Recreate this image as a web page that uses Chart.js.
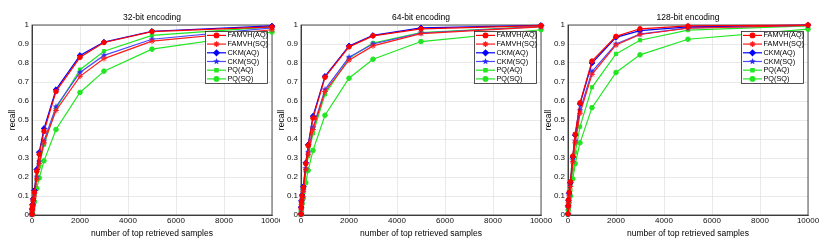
<!DOCTYPE html>
<html>
<head>
<meta charset="utf-8">
<script src="https://cdn.jsdelivr.net/npm/chart.js@4/dist/chart.umd.min.js"></script>
<style>
  body { margin: 0; background: #fff; }
  #wrap { position: relative; width: 833px; height: 248px; overflow: hidden; }
  canvas { position: absolute; top: 0; }
</style>
</head>
<body>
<div id="wrap">
  <canvas id="c32" width="280" height="248" style="left:0px"></canvas>
  <canvas id="c64" width="291" height="248" style="left:269px"></canvas>
  <canvas id="c128" width="297" height="248" style="left:536px"></canvas>
</div>
<script>
// number of retrieved samples (x)
var samples = [1, 10, 20, 50, 100, 200, 300, 500, 1000, 2000, 3000, 5000, 10000];
var seriesNames = ["FAMVH(AQ)", "FAMVH(SQ)", "CKM(AQ)", "CKM(SQ)", "PQ(AQ)", "PQ(SQ)"];
var xTicks = [0, 2000, 4000, 6000, 8000, 10000];
var yTicks = [0, 0.1, 0.2, 0.3, 0.4, 0.5, 0.6, 0.7, 0.8, 0.9, 1];

// 32-bit
var famvhAQ32 = [0.004, 0.03, 0.05, 0.08, 0.12, 0.23, 0.32, 0.44, 0.65, 0.83, 0.908, 0.965, 0.99];
var famvhSQ32 = [0.003, 0.02, 0.04, 0.07, 0.10, 0.19, 0.27, 0.38, 0.55, 0.73, 0.823, 0.915, 0.975];
var ckmAQ32   = [0.004, 0.032, 0.055, 0.085, 0.13, 0.24, 0.33, 0.455, 0.66, 0.84, 0.91, 0.967, 0.995];
var ckmSQ32   = [0.003, 0.022, 0.042, 0.072, 0.11, 0.20, 0.28, 0.39, 0.57, 0.75, 0.84, 0.925, 0.985];
var pqAQ32    = [0.003, 0.02, 0.04, 0.07, 0.10, 0.185, 0.255, 0.37, 0.56, 0.765, 0.862, 0.945, 0.99];
var pqSQ32    = [0.002, 0.015, 0.03, 0.05, 0.07, 0.14, 0.195, 0.285, 0.45, 0.645, 0.757, 0.873, 0.963];

// 64-bit
var famvhAQ64 = [0.005, 0.04, 0.07, 0.10, 0.145, 0.27, 0.365, 0.51, 0.725, 0.885, 0.943, 0.98, 0.997];
var famvhSQ64 = [0.004, 0.03, 0.055, 0.085, 0.125, 0.24, 0.32, 0.45, 0.65, 0.815, 0.89, 0.955, 0.99];
var ckmAQ64   = [0.005, 0.042, 0.075, 0.105, 0.15, 0.275, 0.37, 0.52, 0.73, 0.89, 0.945, 0.985, 0.998];
var ckmSQ64   = [0.004, 0.032, 0.06, 0.09, 0.13, 0.245, 0.33, 0.46, 0.66, 0.83, 0.90, 0.958, 0.992];
var pqAQ64    = [0.004, 0.03, 0.055, 0.08, 0.12, 0.23, 0.31, 0.43, 0.635, 0.825, 0.905, 0.96, 0.993];
var pqSQ64    = [0.003, 0.02, 0.04, 0.06, 0.09, 0.17, 0.235, 0.34, 0.525, 0.72, 0.82, 0.913, 0.975];

// 128-bit
var famvhAQ128 = [0.006, 0.05, 0.08, 0.12, 0.175, 0.31, 0.425, 0.59, 0.81, 0.94, 0.98, 0.995, 1.0];
var famvhSQ128 = [0.005, 0.04, 0.065, 0.10, 0.15, 0.28, 0.38, 0.535, 0.74, 0.895, 0.95, 0.983, 0.998];
var ckmAQ128   = [0.006, 0.048, 0.078, 0.115, 0.17, 0.305, 0.42, 0.585, 0.80, 0.935, 0.97, 0.99, 0.999];
var ckmSQ128   = [0.005, 0.042, 0.07, 0.105, 0.16, 0.29, 0.39, 0.55, 0.755, 0.90, 0.952, 0.985, 0.998];
var pqAQ128    = [0.004, 0.035, 0.055, 0.085, 0.13, 0.24, 0.33, 0.465, 0.672, 0.848, 0.92, 0.973, 0.995];
var pqSQ128    = [0.003, 0.025, 0.04, 0.065, 0.10, 0.19, 0.27, 0.38, 0.565, 0.75, 0.843, 0.925, 0.978];

var FONT = '"Liberation Sans", Arial, sans-serif';
var INK = '#262626';

// filled five point star for CKM(SQ)
function starImg(color, r) {
	var s = Math.ceil(r * 2 + 2);
	var c = document.createElement('canvas');
	c.width = c.height = s;
	var g = c.getContext('2d');
	g.fillStyle = color;
	g.beginPath();
	for (var k = 0; k < 10; k++) {
		var rr = k % 2 ? r * 0.45 : r;
		var a = -Math.PI / 2 + k * Math.PI / 5;
		g.lineTo(s / 2 + rr * Math.cos(a), s / 2 + rr * Math.sin(a));
	}
	g.closePath();
	g.fill();
	return c;
}

var styles = [
	{color: '#ff0000', point: 'circle', r: 2.3},
	{color: '#ff1a1a', point: 'star', r: 2.8},
	{color: '#0000ff', point: 'rectRot', r: 2.8},
	{color: '#4a4aff', point: starImg('#2a2aff', 3.4), r: 3},
	{color: '#22e622', point: 'rect', r: 2.3},
	{color: '#22e622', point: 'circle', r: 2.3}
];

function makeDatasets(list) {
	return list.map(function(values, i) {
		var st = styles[i];
		return {
			label: seriesNames[i],
			data: samples.map(function(x, j) { return {x: x, y: values[j]}; }),
			borderColor: st.color,
			backgroundColor: st.color,
			pointBackgroundColor: st.color,
			pointBorderColor: st.color,
			pointStyle: st.point,
			pointRadius: st.r,
			pointBorderWidth: 1,
			borderWidth: 1.2,
			tension: 0,
			clip: 6
		};
	});
}

// MATLAB style box round the axes
var boxFrame = {
	id: 'boxFrame',
	beforeDatasetsDraw: function(chart) {
		var a = chart.chartArea, ctx = chart.ctx;
		ctx.save();
		ctx.strokeStyle = INK;
		ctx.lineWidth = 0.8;
		ctx.strokeRect(a.left, a.top, a.right - a.left, a.bottom - a.top);
		ctx.restore();
	}
};

// legend inside the axes, top right, with a border
var boxLegend = {
	id: 'boxLegend',
	afterDraw: function(chart) {
		var a = chart.chartArea, ctx = chart.ctx;
		var w = 62, h = 52;
		var x0 = a.right - 5 - w, y0 = a.top + 6;
		ctx.save();
		ctx.fillStyle = '#fff';
		ctx.fillRect(x0, y0, w, h);
		ctx.strokeStyle = INK;
		ctx.lineWidth = 0.8;
		ctx.strokeRect(x0 + 0.5, y0 + 0.5, w, h);
		ctx.font = '7.3px ' + FONT;
		ctx.textBaseline = 'middle';
		chart.data.datasets.forEach(function(ds, i) {
			var y = y0 + 4.4 + i * 8.7;
			ctx.strokeStyle = ds.borderColor;
			ctx.fillStyle = ds.pointBackgroundColor;
			ctx.lineWidth = ds.borderWidth;
			ctx.beginPath();
			ctx.moveTo(x0 + 2, y);
			ctx.lineTo(x0 + 21, y);
			ctx.stroke();
			Chart.helpers.drawPoint(ctx, {pointStyle: ds.pointStyle, radius: ds.pointRadius, borderWidth: 1, rotation: 0}, x0 + 11.5, y);
			ctx.fillStyle = '#000';
			ctx.fillText(ds.label, x0 + 22.5, y);
		});
		ctx.restore();
	}
};

function makeChart(id, title, list) {
	var cv = document.getElementById(id);
	return new Chart(cv, {
		type: 'line',
		data: {datasets: makeDatasets(list)},
		plugins: [boxFrame, boxLegend],
		options: {
			responsive: false,
			animation: false,
			layout: {padding: {left: 0, right: cv.width - 272, top: 0, bottom: 0}},
			plugins: {
				legend: {display: false},
				tooltip: {enabled: false},
				title: {
					display: true,
					text: title,
					fullSize: false,
					color: '#000',
					font: {family: FONT, size: 8.5, weight: 'normal'},
					padding: {top: 13, bottom: 1.8}
				}
			},
			scales: {
				x: {
					type: 'linear',
					min: 0, max: 10000,
					afterBuildTicks: function(s) { s.ticks = xTicks.map(function(v) { return {value: v}; }); },
					ticks: {color: '#111', font: {family: FONT, size: 8}, padding: 1, maxRotation: 0, autoSkip: false,
						callback: function(v) { return String(v); }},
					grid: {color: '#e3e3e3', drawTicks: false, lineWidth: 0.8},
					border: {color: INK, width: 0.8},
					title: {display: true, text: 'number of top retrieved samples', color: '#000',
						font: {family: FONT, size: 8.5}, padding: {top: 0, bottom: 9}},
					afterFit: function(s) { s.height = 33; s.paddingLeft = 0; s.paddingRight = 0; }
				},
				y: {
					min: 0, max: 1,
					afterBuildTicks: function(s) { s.ticks = yTicks.map(function(v) { return {value: v}; }); },
					ticks: {color: '#111', font: {family: FONT, size: 8}, padding: 3,
						callback: function(v) { return String(+v.toFixed(1)); }},
					grid: {color: '#e3e3e3', drawTicks: false, lineWidth: 0.8},
					border: {color: INK, width: 0.8},
					title: {display: true, text: 'recall', color: '#000',
						font: {family: FONT, size: 8.5}, padding: {top: 8, bottom: 0}},
					afterFit: function(s) { s.width = 32; s.paddingTop = 0; s.paddingBottom = 0; }
				}
			}
		}
	});
}

makeChart('c32', '32-bit encoding', [famvhAQ32, famvhSQ32, ckmAQ32, ckmSQ32, pqAQ32, pqSQ32]);
makeChart('c64', '64-bit encoding', [famvhAQ64, famvhSQ64, ckmAQ64, ckmSQ64, pqAQ64, pqSQ64]);
makeChart('c128', '128-bit encoding', [famvhAQ128, famvhSQ128, ckmAQ128, ckmSQ128, pqAQ128, pqSQ128]);
</script>
</body>
</html>
